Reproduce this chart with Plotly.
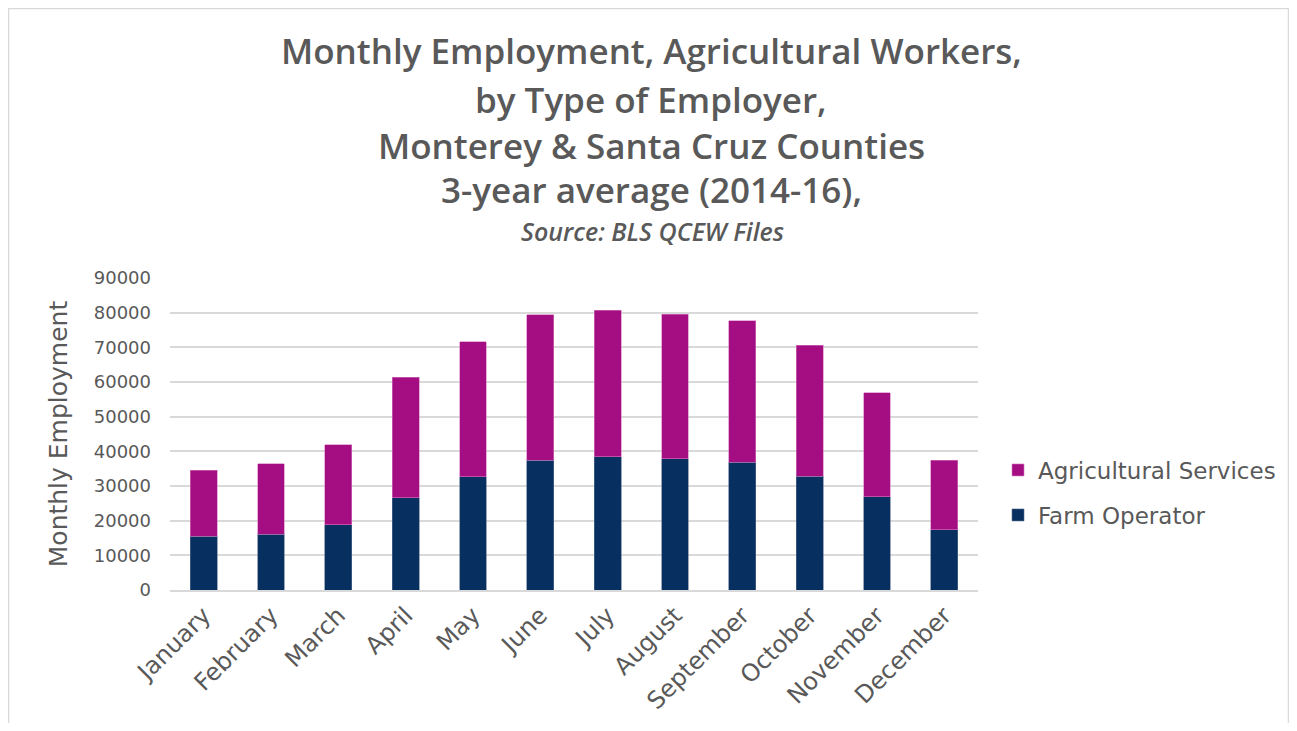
import plotly.graph_objects as go

months = ["January", "February", "March", "April", "May", "June", "July",
          "August", "September", "October", "November", "December"]
farm_operator = [15500, 16150, 18850, 26550, 32600, 37500, 38370, 37790, 36830, 32880, 26830, 17400]
totals = [34600, 36450, 41900, 61350, 71550, 79350, 80750, 79500, 77700, 70600, 56900, 37500]
ag_services = [t - f for t, f in zip(totals, farm_operator)]

title_lines = ["Monthly Employment, Agricultural Workers,", "by Type of Employer,",
               "Monterey & Santa Cruz Counties", "3-year average (2014-16),"]
subtitle = "Source: BLS QCEW Files"

TFONT = "Open Sans"
FONT = "DejaVu Sans"
GREY = "#595959"
W, H = 1281, 715
L, R, T, B = 162, 311, 270, 133
PW, PH = W - L - R, H - T - B

def px(x):
    return (x - L) / PW

def py(y):
    return (H - B - y) / PH

fig = go.Figure()
fig.add_trace(go.Bar(x=months, y=farm_operator, name="Farm Operator",
                     marker=dict(color="#072F5F", line=dict(color="#5a7090", width=0.6)),
                     legend="legend2", showlegend=True))
fig.add_trace(go.Bar(x=months, y=ag_services, name="Agricultural Services",
                     marker=dict(color="#A50E82", line=dict(color="#d37cc0", width=0.6)),
                     legend="legend", showlegend=True))

annotations = []
title_y = [43, 91, 137, 182]
for line, yy in zip(title_lines, title_y):
    annotations.append(dict(text=line, x=px(643), y=py(yy), xref="paper", yref="paper",
                            showarrow=False, xanchor="center", yanchor="middle",
                            font=dict(family=TFONT, size=35, weight=600, color=GREY)))
annotations.append(dict(text=subtitle, x=px(644), y=py(223), xref="paper", yref="paper",
                        showarrow=False, xanchor="center", yanchor="middle",
                        font=dict(family=TFONT, size=25, weight=600, style="italic", color=GREY)))

fig.update_layout(
    width=W, height=H,
    margin=dict(l=L, r=R, t=T, b=B, autoexpand=False),
    paper_bgcolor="white", plot_bgcolor="white",
    barmode="stack", bargap=0.6,
    showlegend=True,
    font=dict(family=FONT, color=GREY),
    annotations=annotations,
    shapes=[dict(type="rect", xref="paper", yref="paper",
                 x0=px(0.5), x1=px(W - 0.5), y0=py(H + 20), y1=py(0.5),
                 line=dict(color="#d9d9d9", width=1.5), fillcolor="rgba(0,0,0,0)", layer="below")],
    legend=dict(x=px(990), y=py(462), xanchor="left", yanchor="middle", visible=True,
                font=dict(family=FONT, size=23, color=GREY), bgcolor="rgba(0,0,0,0)"),
    legend2=dict(x=px(990), y=py(507), xanchor="left", yanchor="middle", visible=True,
                 font=dict(family=FONT, size=23, color=GREY), bgcolor="rgba(0,0,0,0)"),
    xaxis=dict(tickangle=-45, tickfont=dict(family=FONT, size=24, color=GREY),
               showgrid=False, showline=True, linecolor="#d9d9d9", linewidth=1.5),
    yaxis=dict(range=[0, 90000], dtick=10000, tickformat="d",
               tickfont=dict(family=FONT, size=18, color=GREY),
               gridcolor="#d9d9d9", gridwidth=1.5, zeroline=False,
               ticklabelstandoff=18,
               title=dict(text="Monthly Employment", font=dict(family=FONT, size=25, color=GREY), standoff=18)),
)

fig.write_html("out.html")
